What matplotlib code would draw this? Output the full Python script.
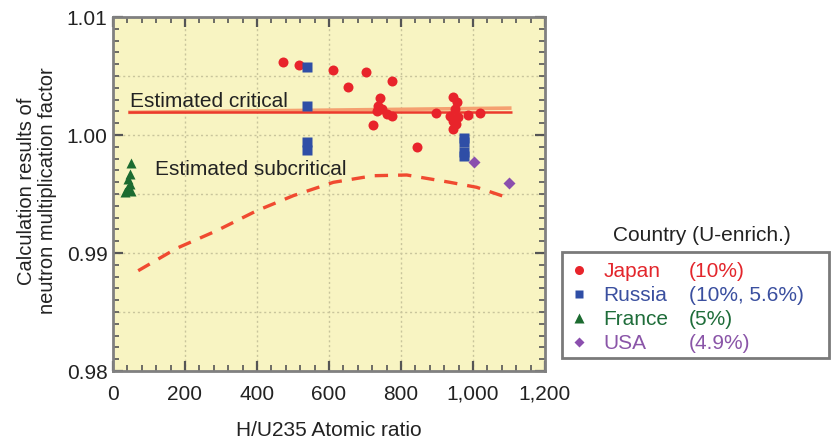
import matplotlib
matplotlib.use("Agg")
from matplotlib import pyplot as plt
from matplotlib.lines import Line2D
from matplotlib.patches import Rectangle
from matplotlib.ticker import MultipleLocator, FuncFormatter
import numpy as np

plt.rcParams['font.family'] = ['Liberation Sans', 'DejaVu Sans']

# data
japan_x = [471, 518, 612, 702, 652, 775, 742, 737, 732, 746, 760, 775, 721, 845,
           897, 944, 955, 936, 945, 945, 959, 987, 1019, 950, 953]
japan_y = [1.00621, 1.00593, 1.00553, 1.00536, 1.00409, 1.00458, 1.00311, 1.00248,
           1.00206, 1.00220, 1.00178, 1.00158, 1.00085, 0.99901, 1.00184, 1.00320,
           1.00277, 1.00164, 1.00121, 1.00051, 1.00150, 1.00169, 1.00184, 1.00220,
           1.00090]
russia_x = [538, 538, 538, 538, 976, 976, 976, 976]
russia_y = [1.00574, 1.00243, 0.99940, 0.99870, 0.99975, 0.99940, 0.99860, 0.99820]
france_x = [50, 47, 42, 47, 38, 51, 34]
france_y = [0.99763, 0.99669, 0.99627, 0.99585, 0.99542, 0.99528, 0.99514]
usa_x = [1004, 1101]
usa_y = [0.99769, 0.99591]

crit_x = [42, 1107]
crit_y = [1.00192, 1.00192]
crit2_y = [1.00192, 1.00228]

sub_x = [70, 177, 288, 399, 501, 612, 723, 816, 936, 1010, 1107]
sub_y = [0.9885, 0.9904, 0.99189, 0.99358, 0.99486, 0.99599, 0.99655, 0.99661,
         0.99599, 0.99557, 0.99458]

names = ["Japan", "Russia", "France", "USA"]
enrich = ["(10%)", "(10%, 5.6%)", "(5%)", "(4.9%)"]

c_red = "#e8242b"
c_blue = "#2f4ea6"
c_green = "#1c6b30"
c_purple = "#8b4fae"
txt_cols = ["#e3262c", "#3a4f9f", "#1f6d3a", "#8a55a8"]
fs = 15

fig = plt.figure(figsize=(8.31, 4.40), dpi=100)
ax = fig.add_axes([113/831, 69/440, 432/831, 354/440])
ax.set_facecolor("#f8f4c2")

ax.plot(crit_x, crit2_y, color="#f5a070", lw=2.6, solid_capstyle="butt", zorder=2)
ax.plot(crit_x, crit_y, color="#ec3a2c", lw=1.8, solid_capstyle="butt", zorder=2)
ax.plot(sub_x, sub_y, color="#f04a30", lw=2.4, dashes=(4, 3), zorder=2)

ax.plot(japan_x, japan_y, 'o', color=c_red, ms=7.2, mec='none', zorder=3)
ax.plot(russia_x, russia_y, 's', color=c_blue, ms=6.6, mec='none', zorder=3)
ax.plot(france_x, france_y, '^', color=c_green, ms=7.2, mec='none', zorder=3)
ax.plot(usa_x, usa_y, 'D', color=c_purple, ms=5.8, mec='none', zorder=3)

ax.text(47, 1.00237, "Estimated critical", fontsize=fs, color="#222222", va="baseline")
ax.text(117, 0.99661, "Estimated subcritical", fontsize=fs, color="#222222", va="baseline")

ax.set_xlim(0, 1200)
ax.set_ylim(0.98, 1.01)
ax.xaxis.set_major_locator(MultipleLocator(200))
ax.xaxis.set_minor_locator(MultipleLocator(40))
ax.yaxis.set_major_locator(MultipleLocator(0.01))
ax.yaxis.set_minor_locator(MultipleLocator(0.001))
ax.xaxis.set_major_formatter(FuncFormatter(lambda v, p: "{:,.0f}".format(v)))
ax.yaxis.set_major_formatter(FuncFormatter(lambda v, p: "%.2f" % v))

for g in np.arange(200, 1200, 200):
    ax.axvline(g, color="#c9c59c", lw=1, ls=(0, (1.5, 2)), zorder=1)
for g in np.arange(0.985, 1.01, 0.005):
    ax.axhline(g, color="#c9c59c", lw=1, ls=(0, (1.5, 2)), zorder=1)

ax.tick_params(which='both', direction='in', top=True, right=True, colors="#555555",
               labelcolor="#222222", labelsize=fs)
ax.tick_params(which='major', length=7, width=1.6)
ax.tick_params(which='minor', length=4, width=1.2)
ax.tick_params(axis='x', pad=10)
ax.tick_params(axis='y', pad=4)
for s in ax.spines.values():
    s.set_color("#808080")
    s.set_linewidth(2)

ax.set_xlabel("H/U235 Atomic ratio", fontsize=fs, color="#222222", labelpad=12)
fig.text(37/831, 1 - 191/440, "Calculation results of\nneutron multiplication factor",
         rotation=90, ha="center", va="center", fontsize=14.5, color="#222222",
         linespacing=1.15)

# legend
handles = [Line2D([], [], ls='none', marker='o', color=c_red, ms=6.5, mec='none'),
           Line2D([], [], ls='none', marker='s', color=c_blue, ms=6, mec='none'),
           Line2D([], [], ls='none', marker='^', color=c_green, ms=6.5, mec='none'),
           Line2D([], [], ls='none', marker='D', color=c_purple, ms=5, mec='none')]
leg = fig.legend(handles, names, loc="upper left", bbox_to_anchor=(562/831, 1 - 256/440),
                 frameon=False, fontsize=fs, borderaxespad=0, borderpad=0.3,
                 handlelength=1.0, handletextpad=0.7, labelspacing=0.24)
for t, c in zip(leg.get_texts(), txt_cols):
    t.set_color(c)

fig.canvas.draw()
for t, c, e in zip(leg.get_texts(), txt_cols, enrich):
    bb = t.get_window_extent()
    fig.text((bb.x0 + 85) / 831, bb.y0 / 440, e, fontsize=fs, color=c,
             ha="left", va="bottom")

fig.add_artist(Rectangle((562/831, 1 - 358/440), 267/831, 106/440,
                         transform=fig.transFigure, fill=False, ec="#7a7a7a", lw=2))
fig.text(702/831, 1 - 235/440, "Country (U-enrich.)", ha="center", va="center",
         fontsize=fs, color="#222222")

fig.savefig("out.png", dpi=100)
